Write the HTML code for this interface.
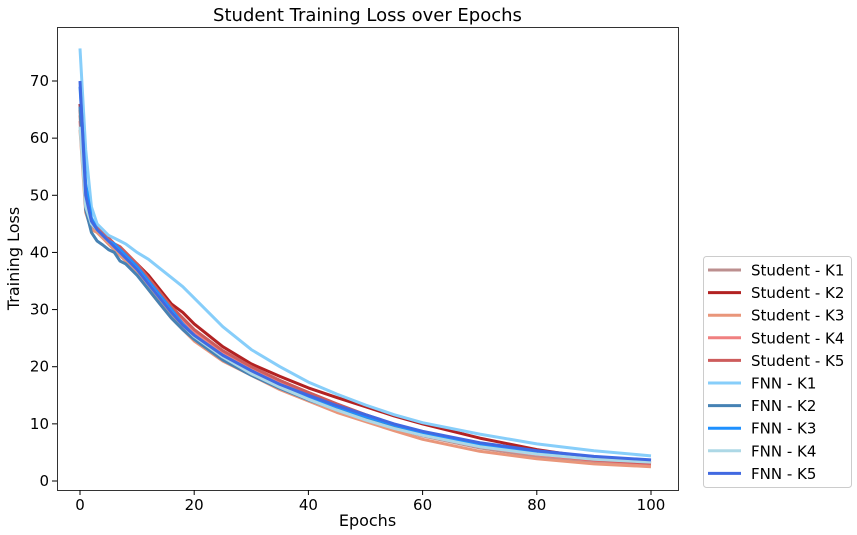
<!DOCTYPE html>
<html><head><meta charset="utf-8">
<style>
body{margin:0;background:#fff;}
svg{display:block;font-family:"DejaVu Sans","Liberation Sans",sans-serif;}
</style></head>
<body>
<svg id="chart" width="857" height="535" viewBox="0 0 857 535"></svg>
<script>
const epochs = [0,1,2,3,4,5,6,7,8,10,12,14,16,18,20,25,30,35,40,45,50,55,60,70,80,90,100];
const seriesNames = ["Student - K1","Student - K2","Student - K3","Student - K4","Student - K5","FNN - K1","FNN - K2","FNN - K3","FNN - K4","FNN - K5"];
const seriesColors = ["#bc8f8f","#b22222","#e9967a","#f08080","#cd5c5c","#87cefa","#4682b4","#1e90ff","#add8e6","#4169e1"];
const studentK1 = [64,48,44.5,43.5,42.5,41.5,40.5,39.5,38.5,36.5,34,31.5,29,27,25,21.5,18.8,16.3,14.3,12.5,10.8,9.2,7.9,5.8,4.3,3.4,2.8];
const studentK2 = [66,48.5,45,44,43.5,42.5,41.5,40.5,39.5,38,36,33.5,31,29.5,27.5,23.5,20.5,18.3,16.3,14.6,13,11.4,10,7.5,5.5,4,3.2];
const studentK3 = [61.5,47,44,43.5,42.5,41.5,40.5,39.5,38.5,36.5,33.5,31,28.5,26.5,24.5,21,18.5,16,14,12,10.4,8.8,7.3,5.2,3.9,3,2.5];
const studentK4 = [63,48,45,44,43.5,42.5,41.5,40.5,39.5,37.5,35,32.5,30,28,26,22.5,19.7,17.3,15.3,13.3,11.3,9.6,8.2,6,4.6,3.6,3];
const studentK5 = [65,48,45,44.5,43.5,42.5,41.5,41,40,38,35.5,33,30.5,28.5,26.5,22.8,20,17.6,15.5,13.5,11.6,9.9,8.4,6.2,4.7,3.7,3.1];
const fnnK1 = [75.7,58,48,45,44,43,42.5,42,41.5,40,38.8,37.2,35.6,34,32,27,23,20,17.3,15.2,13.3,11.6,10.2,8.2,6.5,5.3,4.4];
const fnnK2 = [65.5,47.5,43.5,42,41.3,40.5,40,38.5,38,36,33.5,31,28.5,26.5,24.8,21.2,18.5,16.2,14.2,12.5,11,9.6,8.3,6.3,5,4.1,3.5];
const fnnK3 = [69,52,46,44,43,42,41.5,40.5,39.5,37.5,35,32.5,30,27.5,25.5,22,19.3,16.8,14.8,13,11.3,9.8,8.5,6.5,5.1,4.2,3.6];
const fnnK4 = [62,48,45,44,43,42,41,40,39,37,34.5,32,29.5,27.3,25.3,21.7,18.8,16.4,14.3,12.4,10.7,9.2,8,6,4.7,3.8,3.3];
const fnnK5 = [70,50,45.5,44,43,42,41,40,39,37,34.5,32,29.5,27.3,25.5,22,19.3,16.9,15,13.2,11.6,10,8.7,6.7,5.3,4.3,3.7];
const seriesValues = [studentK1,studentK2,studentK3,studentK4,studentK5,fnnK1,fnnK2,fnnK3,fnnK4,fnnK5];
const xTicks = [0,20,40,60,80,100];
const yTicks = [0,10,20,30,40,50,60,70];

const NS="http://www.w3.org/2000/svg";
const svg=document.getElementById('chart');
const L=57,R=678,T=27,B=490;
const xs=v=>80+v*(651-80)/100;
const ys=v=>481-v*(400/70);
function mk(tag,attrs,parent){const e=document.createElementNS(NS,tag);for(const k in attrs)e.setAttribute(k,attrs[k]);(parent||svg).appendChild(e);return e;}

const title=mk('text',{x:(L+R)/2,y:21,'text-anchor':'middle','font-size':18,fill:'#000'});
title.textContent='Student Training Loss over Epochs';



const g=mk('g',{});


seriesValues.forEach((vals,i)=>{
  const d=vals.map((v,j)=>(j?'L':'M')+xs(epochs[j]).toFixed(1)+','+ys(v).toFixed(1)).join(' ');
  const p=mk('path',{d:d,fill:'none',stroke:seriesColors[i],'stroke-width':3,'stroke-linejoin':'round'},g);
  
  
});

const frame=mk('rect',{x:L+0.5,y:T+0.5,width:R-L,height:B-T,fill:'none',stroke:'#000','stroke-width':0.8});



xTicks.forEach(t=>{
  mk('line',{x1:xs(t),x2:xs(t),y1:B,y2:B+5,stroke:'#000'});
  const tx=mk('text',{x:xs(t),y:B+20,'text-anchor':'middle','font-size':15});
  tx.textContent=t;
  
  
});
yTicks.forEach(t=>{
  mk('line',{x1:L-5,x2:L,y1:ys(t),y2:ys(t),stroke:'#000'});
  const tx=mk('text',{x:L-8,y:ys(t)+5,'text-anchor':'end','font-size':15});
  tx.textContent=t;
  
  
});
const xl=mk('text',{x:(L+R)/2,y:526,'text-anchor':'middle','font-size':16});
xl.textContent='Epochs';


const yl=mk('text',{x:0,y:0,'text-anchor':'middle','font-size':16,transform:'translate(19,'+((T+B)/2)+') rotate(-90)'});
yl.textContent='Training Loss';



const lg=mk('g',{});


mk('rect',{x:703.5,y:256.5,width:148,height:231,rx:3,fill:'#fff',stroke:'#ccc'},lg);
seriesNames.forEach((n,i)=>{
  const y=270+i*22.6;
  const e=mk('g',{},lg);
  
  
  mk('line',{x1:708,x2:741,y1:y,y2:y,stroke:seriesColors[i],'stroke-width':3},e);
  const t=mk('text',{x:751,y:y+5.5,'font-size':15},e);
  t.textContent=n;
});
</script>
</body></html>
